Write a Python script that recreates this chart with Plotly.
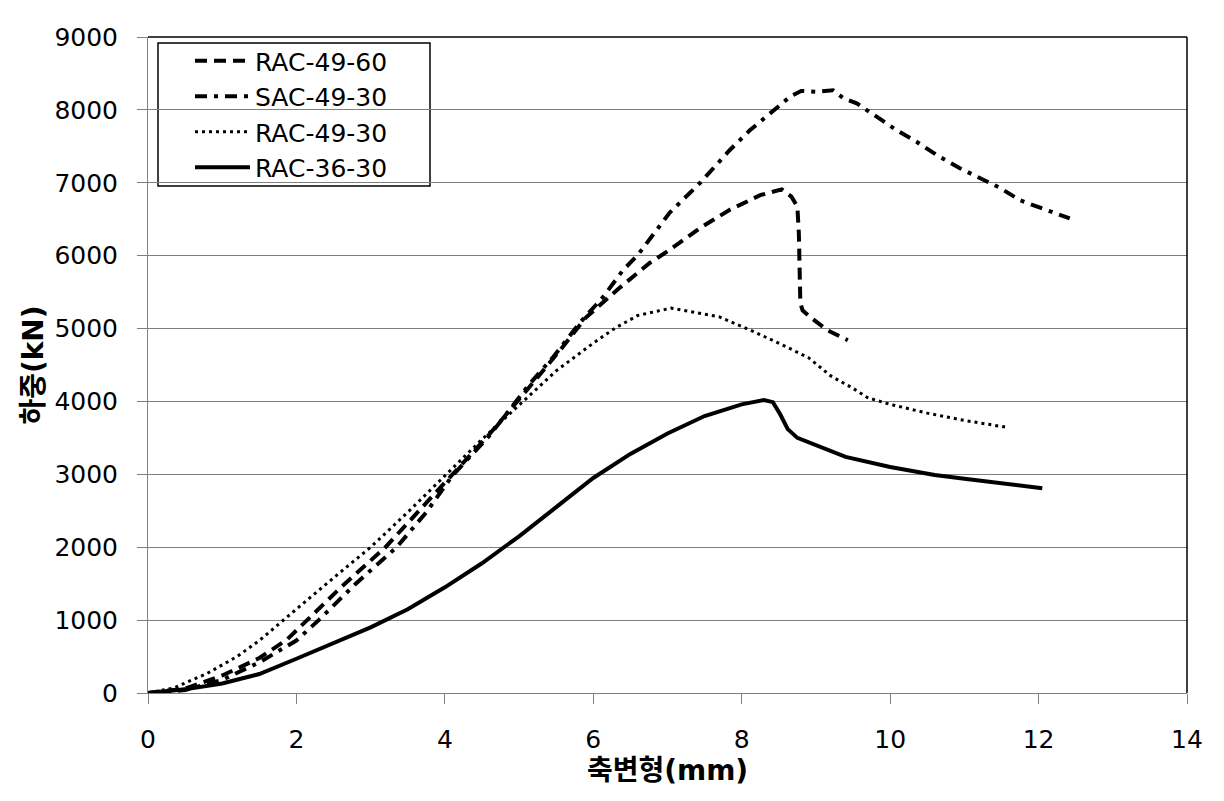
import plotly.graph_objects as go

# ---- data ----
rac4960_x = [0, 0.5, 1.0, 1.5, 1.87, 2.15, 2.6, 3.2, 3.65, 4.1, 4.6, 5.1, 5.55, 5.9, 6.32, 6.76, 7.03, 7.44, 7.84, 8.25, 8.54, 8.67, 8.75, 8.77, 8.78, 8.79, 8.82, 8.92, 9.15, 9.43]
rac4960_y = [0, 60, 240, 480, 730, 1000, 1450, 2000, 2500, 3000, 3550, 4150, 4700, 5150, 5530, 5900, 6080, 6380, 6630, 6830, 6910, 6810, 6670, 6300, 5800, 5350, 5250, 5160, 4980, 4840]

sac4930_x = [0, 0.5, 1.0, 1.5, 2.0, 2.3, 2.8, 3.35, 3.75, 4.1, 4.6, 5.15, 5.46, 5.82, 6.13, 6.4, 6.6, 7.03, 7.44, 7.84, 8.11, 8.38, 8.65, 8.8, 9.0, 9.23, 9.37, 9.55, 9.82, 10.09, 10.36, 10.63, 10.94, 11.25, 11.48, 11.75, 12.11, 12.42]
sac4930_y = [0, 40, 180, 420, 720, 1000, 1500, 2000, 2480, 2980, 3530, 4250, 4610, 5080, 5430, 5800, 6010, 6590, 7000, 7450, 7720, 7950, 8180, 8260, 8250, 8270, 8160, 8090, 7900, 7720, 7560, 7380, 7200, 7040, 6930, 6760, 6630, 6510]

rac4930_x = [0, 0.35, 0.8, 1.2, 1.5, 1.82, 2.0, 2.5, 3.0, 3.5, 4.0, 4.5, 5.0, 5.5, 6.0, 6.3, 6.6, 7.05, 7.7, 8.2, 8.6, 8.9, 9.2, 9.5, 9.7, 10.0, 10.5, 11.0, 11.6]
rac4930_y = [0, 70, 270, 500, 720, 1000, 1150, 1580, 2000, 2480, 2980, 3480, 3950, 4420, 4800, 5010, 5180, 5280, 5160, 4940, 4750, 4600, 4350, 4180, 4050, 3960, 3840, 3740, 3640]

rac3630_x = [0, 0.5, 1.0, 1.5, 2.0, 2.5, 3.0, 3.5, 4.0, 4.5, 5.0, 5.5, 6.0, 6.5, 7.0, 7.5, 8.0, 8.3, 8.42, 8.52, 8.62, 8.75, 9.0, 9.4, 10.0, 10.6, 11.0, 11.5, 12.05]
rac3630_y = [0, 50, 130, 260, 470, 680, 900, 1150, 1450, 1780, 2150, 2550, 2950, 3280, 3560, 3800, 3960, 4020, 3990, 3820, 3620, 3500, 3400, 3240, 3100, 2990, 2940, 2880, 2810]

series_names = ["RAC-49-60", "SAC-49-30", "RAC-49-30", "RAC-36-30"]
x_ticks = [0, 2, 4, 6, 8, 10, 12, 14]
y_ticks = [0, 1000, 2000, 3000, 4000, 5000, 6000, 7000, 8000, 9000]
x_title = "축변형(mm)"
y_title = "하중(kN)"

FONT = "DejaVu Sans, Noto Sans CJK KR"
TFONT = "DejaVu Sans, Noto Sans CJK KR"

series = [
    (rac4960_x, rac4960_y, dict(color="black", width=4, dash="12px,7px")),
    (sac4930_x, sac4930_y, dict(color="black", width=4, dash="12px,7px,4px,7px")),
    (rac4930_x, rac4930_y, dict(color="black", width=3, dash="3px,4px")),
    (rac3630_x, rac3630_y, dict(color="black", width=4)),
]

fig = go.Figure()
for i, (xs, ys, ln) in enumerate(series):
    fig.add_trace(go.Scatter(x=xs, y=ys, mode="lines", name=series_names[i],
                             line=ln, legendgroup=f"g{i}"))

# page body adds an 8px offset; compensate so the plot area lands at x 148..1187, y 37..693
W, H = 1216, 793
ML, MR, MT, MB = 140, 37, 29, 108
PW = W - ML - MR
PH = H - MT - MB

fig.update_layout(
    width=W, height=H,
    margin=dict(l=ML, r=MR, t=MT, b=MB),
    paper_bgcolor="white", plot_bgcolor="white",
    font=dict(family=FONT, size=25, color="black"),
    showlegend=True,
    legend=dict(x=(190 - 148) / PW, y=1 - (38 - 37) / PH, xanchor="left", yanchor="top",
                bgcolor="rgba(0,0,0,0)", borderwidth=0,
                font=dict(family=FONT, size=25, color="black"),
                itemwidth=55, tracegroupgap=9.5, traceorder="normal"),
)
fig.update_xaxes(range=[0, 14], tickvals=x_ticks, ticktext=[str(v) for v in x_ticks],
                 showgrid=False, zeroline=False, showline=True, linecolor="#808080", linewidth=1,
                 ticks="outside", ticklen=10, tickcolor="#808080", ticklabelstandoff=14,
                 title=dict(text=x_title, font=dict(family=TFONT, size=28, color="black", weight="bold"), standoff=6))
fig.update_yaxes(range=[0, 9000], tickvals=y_ticks, ticktext=[str(v) for v in y_ticks],
                 showgrid=True, gridcolor="#808080", gridwidth=1, zeroline=False,
                 showline=True, linecolor="#808080", linewidth=1,
                 ticks="outside", ticklen=10, tickcolor="#808080", ticklabelstandoff=14,
                 title=dict(text=y_title, font=dict(family=TFONT, size=28, color="black", weight="bold"), standoff=2))

# plot-area border (top and right) and legend box
fig.add_shape(type="line", xref="paper", yref="paper", x0=0, x1=1, y0=1, y1=1,
              line=dict(color="black", width=1.5), layer="above")
fig.add_shape(type="line", xref="paper", yref="paper", x0=1, x1=1, y0=0, y1=1,
              line=dict(color="black", width=1.5), layer="above")
fig.add_shape(type="rect", xref="paper", yref="paper",
              x0=(158 - 148) / PW, x1=(430 - 148) / PW,
              y0=(693 - 186) / PH, y1=(693 - 43) / PH,
              line=dict(color="black", width=1.5), fillcolor="white", layer="below")

fig.write_html("out.html")
